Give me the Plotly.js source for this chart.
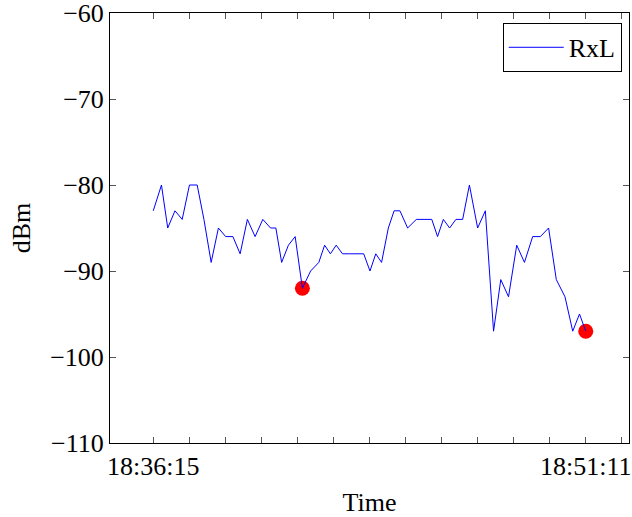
<!DOCTYPE html>
<html>
<head>
<meta charset="utf-8">
<script src="https://cdn.plot.ly/plotly-3.0.1.min.js"></script>
<style>html,body{margin:0;padding:0;background:#fff;}#chart{width:632px;height:517px;}</style>
</head>
<body>
<div id="chart"></div>
<script>
// Elapsed seconds since 18:36:15
const elapsedSeconds = [0, 17, 30, 45, 60, 75, 91, 105, 120, 135, 150, 165, 180, 195, 211, 227, 243, 254, 266, 280, 294, 309, 326, 343, 355, 367, 379, 392, 406, 421, 436, 449, 461, 473, 487, 499, 511, 527, 545, 561, 577, 589, 601, 614, 627, 641, 655, 672, 688, 705, 720, 736, 753, 769, 786, 802, 819, 835, 853, 869, 883, 896];
const rxlDbm = [-83, -80, -85, -83, -84, -80, -80, -84, -89, -85, -86, -86, -88, -84, -86, -84, -85, -85, -89, -87, -86, -92, -90, -89, -87, -88, -87, -88, -88, -88, -88, -90, -88, -89, -85, -83, -83, -85, -84, -84, -84, -86, -84, -85, -84, -84, -80, -85, -83, -97, -91, -93, -87, -89, -86, -86, -85, -91, -93, -97, -95, -97];
const markedSeconds = [309, 896];
const markedDbm = [-92, -97];
const xTickVals = [0, 74.67, 149.33, 224, 298.67, 373.33, 448, 522.67, 597.33, 672, 746.67, 821.33, 896, 970.67];
const xTickText = ['18:36:15', '', '', '', '', '', '', '', '', '', '', '', '18:51:11', ''];
const yTickVals = [-110, -100, -90, -80, -70, -60];
const yTickText = ['\u2212110', '\u2212100', '\u221290', '\u221280', '\u221270', '\u221260'];

const fontFam = 'Liberation Serif, DejaVu Serif, serif';

const traces = [
  {x: markedSeconds, y: markedDbm, type: 'scatter', mode: 'markers',
   marker: {color: '#ff0000', size: 15}, showlegend: false, hoverinfo: 'skip'},
  {x: elapsedSeconds, y: rxlDbm, type: 'scatter', mode: 'lines', name: 'RxL',
   line: {color: '#0000ff', width: 1}}
];

const layout = {
  width: 632, height: 517,
  margin: {l: 110, r: 3, t: 13, b: 74, pad: 0},
  paper_bgcolor: '#ffffff', plot_bgcolor: '#ffffff',
  font: {family: fontFam, size: 26, color: '#000'},
  xaxis: {
    range: [-89.6, 985.6], tickmode: 'array', tickvals: xTickVals, ticktext: xTickText,
    ticks: 'inside', ticklen: 6, tickwidth: 1, tickcolor: '#555',
    showline: true, linecolor: '#000', linewidth: 1, mirror: 'ticks',
    showgrid: false, zeroline: false, ticklabeloverflow: 'allow',
    tickfont: {family: fontFam, size: 26},
    title: {text: 'Time', font: {family: fontFam, size: 26}, standoff: 12}
  },
  yaxis: {
    range: [-110, -60], tickmode: 'array', tickvals: yTickVals, ticktext: yTickText,
    ticks: 'inside', ticklen: 6, tickwidth: 1, tickcolor: '#555',
    showline: true, linecolor: '#000', linewidth: 1, mirror: 'ticks',
    showgrid: false, zeroline: false, ticklabeloverflow: 'allow',
    tickfont: {family: fontFam, size: 26},
    title: {text: 'dBm', font: {family: fontFam, size: 26}, standoff: 12}
  },
  legend: {
    x: 0.986, y: 0.977, xanchor: 'right', yanchor: 'top',
    bgcolor: '#ffffff', bordercolor: '#000', borderwidth: 1,
    font: {family: fontFam, size: 26}, itemwidth: 55, tracegroupgap: 0
  }
};

Plotly.newPlot('chart', traces, layout, {displayModeBar: false, staticPlot: true});
</script>
</body>
</html>
